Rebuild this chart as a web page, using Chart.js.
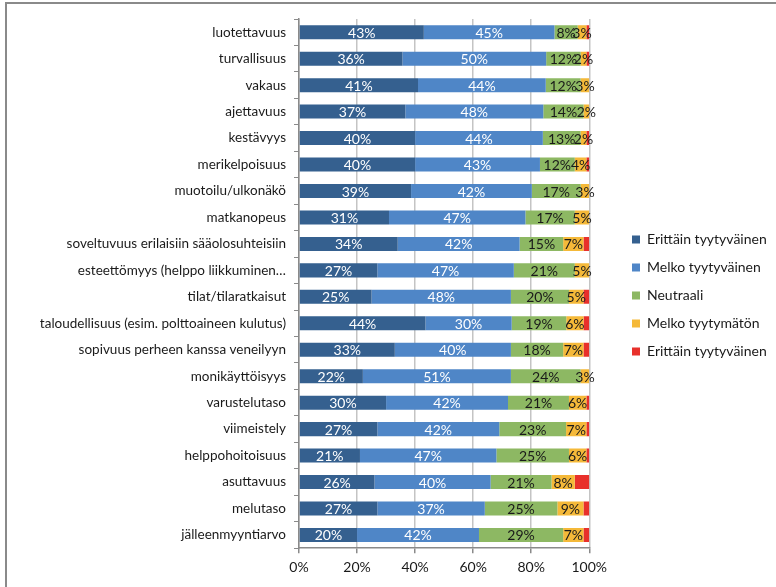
<!DOCTYPE html>
<html>
<head>
<meta charset="utf-8">
<script src="https://cdn.jsdelivr.net/npm/chart.js@4"></script>
<style>
  html, body { margin: 0; padding: 0; background: #fff; }
  #wrap { position: relative; width: 776px; height: 587px; }
  #wrap canvas { position: absolute; left: 0; top: 0; }
  .frameTop { position: absolute; left: 5px; top: 2px; width: 771px; height: 2px; background: #8a8a8a; }
  .frameLeft { position: absolute; left: 5px; top: 2px; width: 2px; height: 585px; background: #8a8a8a; }
</style>
</head>
<body>
<div id="wrap">
  <canvas id="chart" width="776" height="587"></canvas>
  <div class="frameTop"></div>
  <div class="frameLeft"></div>
</div>
<script>
// categories (top to bottom)
const categories = [
    'luotettavuus', 'turvallisuus', 'vakaus', 'ajettavuus', 'kestävyys',
    'merikelpoisuus', 'muotoilu/ulkonäkö', 'matkanopeus',
    'soveltuvuus erilaisiin sääolosuhteisiin', 'esteettömyys (helppo liikkuminen…',
    'tilat/tilaratkaisut', 'taloudellisuus (esim. polttoaineen kulutus)',
    'sopivuus perheen kanssa veneilyyn', 'monikäyttöisyys', 'varustelutaso',
    'viimeistely', 'helppohoitoisuus', 'asuttavuus', 'melutaso', 'jälleenmyyntiarvo'
];

const seriesNames = ['Erittäin tyytyväinen', 'Melko tyytyväinen', 'Neutraali', 'Melko tyytymätön', 'Erittäin tyytyväinen'];
const seriesColors = ['#35608f', '#4f86c7', '#8db863', '#f5b939', '#e8302b'];

// percentages
const veryPleased   = [43, 36, 41, 37, 40, 40, 39, 31, 34, 27, 25, 44, 33, 22, 30, 27, 21, 26, 27, 20];
const fairlyPleased = [45, 50, 44, 48, 44, 43, 42, 47, 42, 47, 48, 30, 40, 51, 42, 42, 47, 40, 37, 42];
const neutral       = [ 8, 12, 12, 14, 13, 12, 17, 17, 15, 21, 20, 19, 18, 24, 21, 23, 25, 21, 25, 29];
const fairlyUnhappy = [ 3,  2,  3,  2,  2,  4,  3,  5,  7,  5,  5,  6,  7,  3,  6,  7,  6,  8,  9,  7];
const veryUnhappy   = [ 1,  1,  0,  0,  1,  1,  0,  0,  2,  0,  2,  2,  2,  0,  1,  1,  1,  5,  2,  2];

const xTicks = [0, 20, 40, 60, 80, 100];

const allSeries = [veryPleased, fairlyPleased, neutral, fairlyUnhappy, veryUnhappy];

// 100% stacked: each row scaled to its own total
const rowTotals = categories.map((c, i) => allSeries.reduce((s, arr) => s + arr[i], 0));

const datasets = allSeries.map((arr, k) => ({
    label: seriesNames[k],
    data: arr.map((v, i) => v / rowTotals[i] * 100),
    raw: arr,
    backgroundColor: seriesColors[k],
    borderWidth: 0,
    barPercentage: 0.53,
    categoryPercentage: 1.0
}));

const FONT = 'Lato, "Open Sans", sans-serif';

// draw the value labels inside the segments (red series has none)
const segmentLabels = {
    id: 'segmentLabels',
    afterDatasetsDraw(chart) {
        const ctx = chart.ctx;
        ctx.save();
        ctx.font = '14px ' + FONT;
        ctx.textAlign = 'center';
        ctx.textBaseline = 'middle';
        chart.data.datasets.forEach((ds, k) => {
            if (k > 3) return;
            const meta = chart.getDatasetMeta(k);
            meta.data.forEach((bar, i) => {
                const v = ds.raw[i];
                if (!v) return;
                const cx = (bar.x + bar.base) / 2;
                ctx.fillStyle = k < 2 ? '#ffffff' : '#1a1a1a';
                ctx.fillText(v + '%', cx, bar.y + 1);
            });
        });
        ctx.restore();
    }
};

// push the legend a bit away from the plot, like the original
const legendShift = {
    id: 'legendShift',
    afterLayout(chart) {
        const lg = chart.legend;
        if (!lg) return;
        const dx = 618 - lg.left;
        lg.left += dx;
        lg.right += dx;
        lg.top -= 5;
        lg.bottom -= 5;
    }
};

new Chart(document.getElementById('chart'), {
    type: 'bar',
    data: {
        labels: categories,
        datasets: datasets
    },
    plugins: [segmentLabels, legendShift],
    options: {
        indexAxis: 'y',
        responsive: false,
        animation: false,
        layout: {
            padding: { top: 19, bottom: 5, left: 0, right: 28 }
        },
        plugins: {
            tooltip: { enabled: false },
            legend: {
                position: 'right',
                labels: {
                    boxWidth: 8,
                    boxHeight: 8,
                    padding: 14,
                    color: '#1a1a1a',
                    font: { family: FONT, size: 14 }
                }
            }
        },
        scales: {
            x: {
                stacked: true,
                min: 0,
                max: 100,
                afterBuildTicks: axis => {
                    axis.ticks = xTicks.map(v => ({ value: v }));
                },
                ticks: {
                    color: '#1a1a1a',
                    padding: 6,
                    font: { family: FONT, size: 14 },
                    callback: v => v + '%'
                },
                grid: {
                    color: '#c4c4c4',
                    lineWidth: 1.5,
                    tickColor: '#8a8a8a',
                    tickLength: 5
                },
                border: { color: '#8a8a8a', width: 1.5 }
            },
            y: {
                stacked: true,
                afterFit: axis => { axis.width = 299; },
                ticks: {
                    color: '#1a1a1a',
                    padding: 8,
                    autoSkip: false,
                    font: { family: FONT, size: 13.5 }
                },
                grid: {
                    offset: true,
                    drawOnChartArea: false,
                    tickColor: '#8a8a8a',
                    tickLength: 5
                },
                border: { color: '#8a8a8a', width: 1.5 }
            }
        }
    }
});
</script>
</body>
</html>
